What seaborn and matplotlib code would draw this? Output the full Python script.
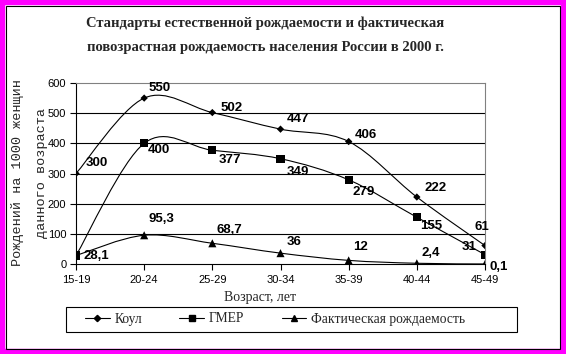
import pandas as pd
import seaborn as sns
import matplotlib.pyplot as plt
from matplotlib.path import Path
from matplotlib.patches import PathPatch, Rectangle
from matplotlib.lines import Line2D

# Данные (рождений на 1000 женщин)
vozrast = ["15-19", "20-24", "25-29", "30-34", "35-39", "40-44", "45-49"]
koul = [300, 550, 502, 447, 406, 222, 61]
gmer = [28.1, 400, 377, 349, 279, 155, 31]
fakt = [28.1, 95.3, 68.7, 36, 12, 2.4, 0.1]
serii = ["Коул", "ГМЕР", "Фактическая рождаемость"]

# смещения подписей в пикселях (dx, dy, ha)
sdvig_koul = [(10, 10, "left"), (4, 10, "left"), (8, 5, "left"), (6, 10, "left"),
              (6, 7, "left"), (8, 9, "left"), (-3, 19, "center")]
sdvig_gmer = [(8, 0, "left"), (4, -7, "left"), (6, -10, "left"), (6, -13, "left"),
              (4, -12, "left"), (3, -9, "left"), (-8, 8, "right")]
sdvig_fakt = [None, (4, 16, "left"), (4, 13, "left"), (6, 11, "left"),
              (4, 13, "left"), (5, 10, "left"), (5, -3, "left")]

sns.set_theme(style="white")
plt.rcParams["font.family"] = ["Liberation Sans", "DejaVu Sans"]

W, H = 566, 354
fig = plt.figure(figsize=(W / 100, H / 100), dpi=100)
fig.patch.set_facecolor("white")
ax = fig.add_axes([76 / W, 1 - 264 / H, 409 / W, 181 / H])

x = list(range(len(vozrast)))


def gladkaya(xs, ys):
    # сглаженная линия как в Excel (кривые Безье)
    n = len(xs)
    pts = list(zip(xs, ys))
    verts = [pts[0]]
    codes = [Path.MOVETO]
    for i in range(n - 1):
        p0 = pts[i - 1] if i > 0 else pts[i]
        p1 = pts[i]
        p2 = pts[i + 1]
        p3 = pts[i + 2] if i + 2 < n else pts[i + 1]
        c1 = (p1[0] + (p2[0] - p0[0]) / 6, p1[1] + (p2[1] - p0[1]) / 6)
        c2 = (p2[0] - (p3[0] - p1[0]) / 6, p2[1] - (p3[1] - p1[1]) / 6)
        verts += [c1, c2, p2]
        codes += [Path.CURVE4] * 3
    return Path(verts, codes)


for ys in [koul, gmer, fakt]:
    ax.add_patch(PathPatch(gladkaya(x, ys), fill=False, edgecolor="black",
                           lw=0.8, zorder=3))

df = pd.DataFrame({
    "x": x * 3,
    "y": koul + gmer + fakt,
    "seriya": [serii[0]] * 7 + [serii[1]] * 7 + [serii[2]] * 7,
})
markery = {serii[0]: "D", serii[1]: "s", serii[2]: "^"}
razmery = {serii[0]: 14, serii[1]: 34, serii[2]: 34}
sns.scatterplot(data=df, x="x", y="y", style="seriya", markers=markery,
                size="seriya", sizes=razmery, color="black", edgecolor="black",
                linewidth=0, legend=False, zorder=4, ax=ax)

ax.set_xlim(0, 6)
ax.set_ylim(0, 600)
ax.set_xticks(x)
ax.set_xticklabels(vozrast)
ax.set_yticks(range(0, 601, 100))
ax.set_xlabel("")
ax.set_ylabel("")
ax.tick_params(axis="both", direction="out", length=4, width=0.8, color="black",
               labelsize=8, labelcolor="black", bottom=True, left=True)
ax.tick_params(axis="x", pad=4)
ax.tick_params(axis="y", pad=3)

ax.yaxis.grid(True, color="black", lw=0.8)
ax.get_ygridlines()[-1].set_visible(False)
ax.get_ygridlines()[0].set_visible(False)
ax.set_axisbelow(True)
for s in ["left", "bottom"]:
    ax.spines[s].set_color("black")
    ax.spines[s].set_linewidth(0.8)
for s in ["top", "right"]:
    ax.spines[s].set_color("#808080")
    ax.spines[s].set_linewidth(0.8)


def fmt(v):
    return (f"{v:g}").replace(".", ",")


for ys, sd in [(koul, sdvig_koul), (gmer, sdvig_gmer), (fakt, sdvig_fakt)]:
    for xi, yi, o in zip(x, ys, sd):
        if o is None:
            continue
        ax.annotate(fmt(yi), (xi, yi), xytext=(o[0] * 0.72, o[1] * 0.72),
                    textcoords="offset points", ha=o[2], va="center",
                    fontsize=9.5, fontweight="bold", color="black",
                    annotation_clip=False, zorder=5)

# заголовок и подписи осей
serif = ["Liberation Serif", "DejaVu Serif"]
fig.text(265 / W, 1 - 23 / H, "Стандарты естественной рождаемости и фактическая",
         ha="center", va="center", family=serif, weight="bold", size=10.5)
fig.text(265 / W, 1 - 47 / H, "повозрастная рождаемость населения России в 2000 г.",
         ha="center", va="center", family=serif, weight="bold", size=10.5)
fig.text(260 / W, 1 - 298 / H, "Возраст, лет", ha="center", va="center",
         family=serif, size=10)
mono = ["Liberation Mono", "DejaVu Sans Mono"]
fig.text(18 / W, 1 - 173 / H, "Рождений на 1000 женщин", ha="center", va="center",
         rotation=90, family=mono, size=9.7)
fig.text(42 / W, 1 - 173 / H, "данного возраста", ha="center", va="center",
         rotation=90, family=mono, size=9.7)

# легенда
ruchki = [Line2D([], [], color="black", lw=0.8, marker=markery[s],
                 markersize={"D": 3.2, "s": 4.5, "^": 4.8}[markery[s]]) for s in serii]
fig.legend(ruchki, serii, loc="center left", bbox_to_anchor=(85 / W, 1 - 319 / H),
           ncol=3, frameon=False, prop={"family": serif, "size": 9.8},
           handlelength=1.8, handletextpad=0.35, columnspacing=2.75,
           borderpad=0, borderaxespad=0)
fig.patches.append(Rectangle((66 / W, 1 - 332 / H), 451 / W, 25 / H,
                             transform=fig.transFigure, fill=False,
                             edgecolor="black", lw=0.8))

# рамка
fig.patches.append(Rectangle((0, 0), 1, 1, transform=fig.transFigure, fill=False,
                             edgecolor="#FF00FF", lw=7.5))
fig.patches.append(Rectangle((5.5 / W, 5.5 / H), 554 / W, 343 / H,
                             transform=fig.transFigure, fill=False,
                             edgecolor="black", lw=0.8))

fig.savefig("out.png", dpi=100)
